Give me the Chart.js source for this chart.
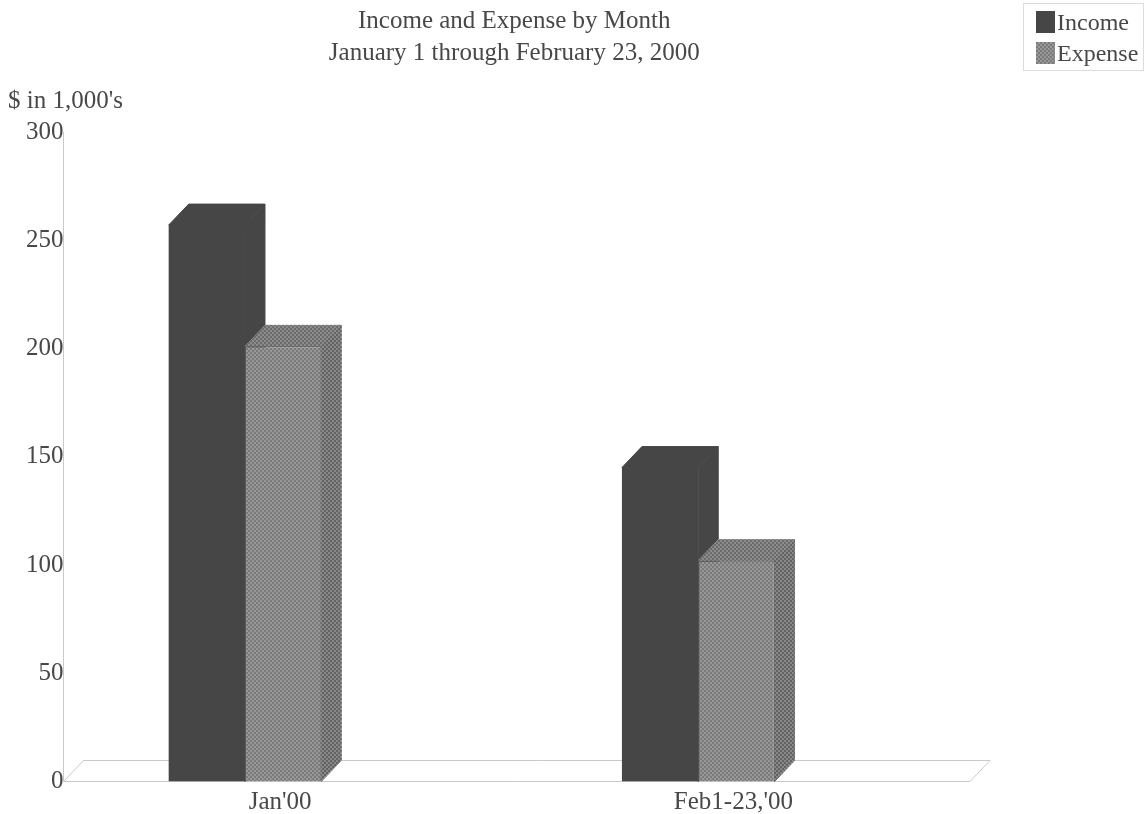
<!DOCTYPE html>
<html>
<head>
<meta charset="utf-8">
<title>Income and Expense by Month</title>
<script src="https://cdn.jsdelivr.net/npm/chart.js@4"></script>
<style>
  html, body { margin: 0; padding: 0; background: #fff; }
  #wrap { width: 1146px; height: 814px; }
  canvas { filter: blur(0.7px); }
</style>
</head>
<body>
<div id="wrap"><canvas id="myChart"></canvas></div>
<script>
// data
var categories = ["Jan'00", "Feb1-23,'00"];
var income = [257, 145];
var expense = [201, 102];
var yTicks = [0, 50, 100, 150, 200, 250, 300];
var titleLines = ["Income and Expense by Month", "January 1 through February 23, 2000"];
var yUnit = "$ in 1,000's";

var FONT = "'Liberation Serif', serif";
var TEXT = "#484848";
var LINE = "#c9c9c9";
var DX = 20, DY = 21; // depth of the fake 3d

// stippled fill like the scan
function dither(a, b) {
  var c = document.createElement("canvas");
  c.width = c.height = 4;
  var g = c.getContext("2d");
  g.fillStyle = a;
  g.fillRect(0, 0, 4, 4);
  g.fillStyle = b;
  g.fillRect(0, 0, 2, 2);
  g.fillRect(2, 2, 2, 2);
  return g.createPattern(c, "repeat");
}

var incomeFill = "#464646";
var expenseFill = dither("#7a7a7a", "#989898");
var expenseTop = dither("#6c6c6c", "#8c8c8c");
var expenseSide = dither("#636363", "#888888");

function poly(g, pts, fill) {
  g.beginPath();
  g.moveTo(pts[0][0], pts[0][1]);
  for (var i = 1; i < pts.length; i++) g.lineTo(pts[i][0], pts[i][1]);
  g.closePath();
  g.fillStyle = fill;
  g.strokeStyle = fill;
  g.fill();
  g.stroke();
}

// floor and axis line, then top and side of each bar
var depthPlugin = {
  id: "depth",
  afterLayout: function (chart) {
    // title sits a little right of the plot centre
    chart.titleBlock.left += 9;
  },
  beforeDatasetsDraw: function (chart) {
    var g = chart.ctx;
    var y0 = chart.scales.y.getPixelForValue(0);
    var yTop = chart.scales.y.getPixelForValue(300);
    var axisX = chart.chartArea.left + 7;
    var floorRight = 970;

    g.save();
    g.strokeStyle = LINE;
    g.lineWidth = 1;
    g.beginPath();
    g.moveTo(axisX, yTop);
    g.lineTo(axisX, y0);
    g.lineTo(floorRight, y0);
    g.lineTo(floorRight + DX, y0 - DY);
    g.lineTo(axisX + DX, y0 - DY);
    g.lineTo(axisX, y0);
    g.stroke();

    [0, 1].forEach(function (d) {
      chart.getDatasetMeta(d).data.forEach(function (bar) {
        var l = bar.x - bar.width / 2, r = bar.x + bar.width / 2;
        poly(g, [[l, bar.y], [l + DX, bar.y - DY], [r + DX, bar.y - DY], [r, bar.y]], d == 0 ? incomeFill : expenseTop);
        poly(g, [[r, bar.y], [r + DX, bar.y - DY], [r + DX, y0 - DY], [r, y0]], d == 0 ? incomeFill : expenseSide);
      });
    });
    g.restore();
  },
  afterDraw: function (chart) {
    // legend box up in the corner
    var g = chart.ctx;
    g.save();
    g.strokeStyle = "#dcdcdc";
    g.strokeRect(1023.5, 3.5, 120, 67);
    g.font = "24px " + FONT;
    g.textBaseline = "middle";
    g.fillStyle = incomeFill;
    g.fillRect(1036, 11, 19, 22);
    g.fillStyle = expenseFill;
    g.fillRect(1036, 42, 19, 22);
    g.fillStyle = TEXT;
    g.fillText(chart.data.datasets[0].label, 1057, 24);
    g.fillText(chart.data.datasets[1].label, 1057, 55);
    g.restore();
  }
};

var ctx = document.getElementById("myChart").getContext("2d");
var chart = new Chart(ctx, {
  type: "bar",
  plugins: [depthPlugin],
  data: {
    labels: categories,
    datasets: [
      { label: "Income", data: income, backgroundColor: incomeFill },
      { label: "Expense", data: expense, backgroundColor: expenseFill, borderColor: "#585858", borderWidth: 1 },
      // empty slot, pushes the pair left of the tick
      { label: "", data: [] }
    ]
  },
  options: {
    responsive: true,
    maintainAspectRatio: false,
    animation: false,
    categoryPercentage: 0.505,
    barPercentage: 1,
    layout: { padding: { left: 8, right: 183, top: 3, bottom: 0 } },
    plugins: {
      legend: { display: false },
      tooltip: { enabled: false },
      title: {
        display: true,
        text: titleLines,
        fullSize: false,
        color: TEXT,
        font: { family: FONT, size: 25, weight: "normal", lineHeight: 1.28 },
        padding: { top: 2, bottom: 0 }
      },
      subtitle: {
        display: true,
        text: yUnit,
        align: "start",
        color: TEXT,
        font: { family: FONT, size: 25, weight: "normal", lineHeight: 1.2 },
        padding: { top: 17, bottom: 16 }
      }
    },
    scales: {
      x: {
        grid: { display: false },
        border: { display: false },
        afterFit: function (scale) { scale.height = 32.5; },
        ticks: {
          color: TEXT,
          font: { family: FONT, size: 25 },
          labelOffset: -3,
          padding: -2,
          maxRotation: 0
        }
      },
      y: {
        min: yTicks[0],
        max: yTicks[yTicks.length - 1],
        grid: { display: false },
        border: { display: false },
        afterFit: function (scale) {
          scale.width = 48.5;
          // labels run past the narrow axis box, do not clip them
          scale._computeLabelArea = function () {};
        },
        ticks: {
          stepSize: yTicks[1] - yTicks[0],
          color: TEXT,
          font: { family: FONT, size: 25 },
          padding: -15
        }
      }
    }
  }
});
</script>
</body>
</html>
